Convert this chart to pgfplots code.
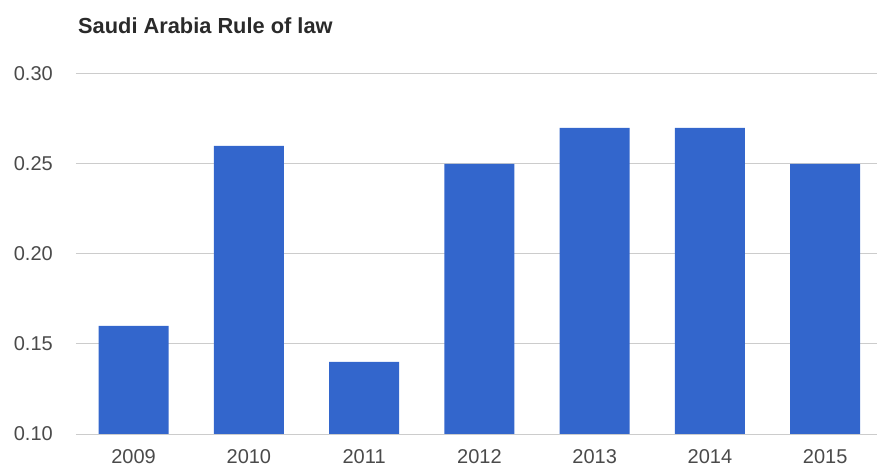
\documentclass[border=0pt]{standalone}
\usepackage{pgfplots}
\pgfplotsset{compat=1.18}
\usepackage{fontspec}
\setmainfont{Liberation Sans}
\definecolor{barblue}{HTML}{3366CC}
\definecolor{gridgray}{HTML}{CCCCCC}
\definecolor{ticktext}{HTML}{4A4A4A}
\definecolor{titletext}{HTML}{2A2A2A}
\begin{document}
\begin{tikzpicture}
\useasboundingbox (-76bp,-34bp) rectangle (801bp,434bp);
\begin{axis}[
  at={(0,0)}, anchor=south west,
  scale only axis,
  width=801bp, height=360bp,
  xmin=-0.5, xmax=6.45,
  ymin=0.10, ymax=0.30,
  ytick={0.10,0.15,0.20,0.25,0.30},
  xtick={0,1,2,3,4,5,6},
  xticklabels={2009,2010,2011,2012,2013,2014,2015},
  ymajorgrids,
  grid style={draw=gridgray, line width=1bp},
  axis line style={draw=none},
  major tick style={draw=none},
  /pgf/number format/assume math mode=true,
  yticklabel={\pgfmathprintnumber[fixed,fixed zerofill,precision=2]{\tick}},
  ticklabel style={font=\fontsize{20bp}{23bp}\selectfont, text=ticktext, inner sep=0pt},
  yticklabel style={anchor=east, xshift=-23bp},
  xticklabel style={anchor=north, yshift=-11bp},
  ybar, bar width=0.607,
]
\addplot[fill=barblue, draw=none, bar shift=0pt] coordinates {
  (0,0.16) (1,0.26) (2,0.14) (3,0.25) (4,0.27) (5,0.27) (6,0.25)
};
\end{axis}
\node[anchor=base west, inner sep=0pt, text=titletext, font=\bfseries\fontsize{21.8bp}{25bp}\selectfont] at (2bp,400bp) {Saudi Arabia Rule of law};
\end{tikzpicture}
\end{document}
